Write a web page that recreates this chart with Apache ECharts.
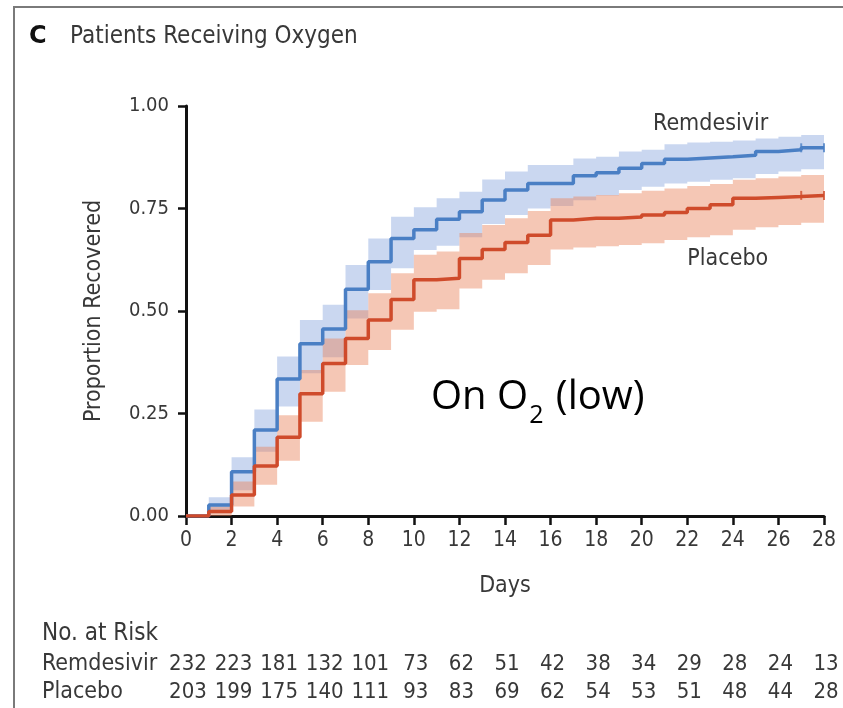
<!DOCTYPE html>
<html>
<head>
<meta charset="utf-8">
<script src="https://cdn.jsdelivr.net/npm/echarts@6/dist/echarts.min.js"></script>
<style>
  html, body { margin: 0; padding: 0; background: #fff; }
  #chart { width: 843px; height: 708px; }
</style>
</head>
<body>
<div id="chart"></div>
<script>
// Day grid for the Kaplan-Meier curves (value at day d holds until day d+1)
const days = [0, 1, 2, 3, 4, 5, 6, 7, 8, 9, 10, 11, 12, 13, 14, 15, 16, 17, 18, 19, 20, 21, 22, 23, 24, 25, 26, 27, 28];

// Cumulative proportion recovered
const remdesivir = [0, 0.027, 0.108, 0.210, 0.334, 0.420, 0.456, 0.553, 0.620, 0.677, 0.698, 0.724, 0.742, 0.771, 0.795, 0.811, 0.811, 0.830, 0.837, 0.848, 0.860, 0.870, 0.873, 0.876, 0.880, 0.889, 0.893, 0.898, 0.898];
const placebo = [0, 0.011, 0.051, 0.122, 0.192, 0.298, 0.372, 0.433, 0.478, 0.528, 0.576, 0.580, 0.628, 0.650, 0.667, 0.685, 0.722, 0.726, 0.726, 0.729, 0.734, 0.740, 0.750, 0.759, 0.775, 0.777, 0.779, 0.782, 0.782];

// 95% confidence bands, one value per interval [d, d+1)
const remLower = [0, 0.007, 0.063, 0.157, 0.267, 0.348, 0.387, 0.482, 0.551, 0.604, 0.649, 0.659, 0.680, 0.712, 0.734, 0.750, 0.756, 0.770, 0.782, 0.795, 0.803, 0.811, 0.815, 0.820, 0.824, 0.834, 0.840, 0.846];
const remUpper = [0, 0.046, 0.143, 0.260, 0.389, 0.478, 0.515, 0.612, 0.677, 0.730, 0.753, 0.775, 0.791, 0.821, 0.840, 0.856, 0.856, 0.872, 0.876, 0.889, 0.893, 0.907, 0.911, 0.913, 0.916, 0.921, 0.925, 0.929];
const plaLower = [0, 0, 0.023, 0.076, 0.135, 0.230, 0.303, 0.368, 0.405, 0.454, 0.498, 0.504, 0.555, 0.576, 0.592, 0.612, 0.650, 0.655, 0.658, 0.661, 0.665, 0.673, 0.680, 0.685, 0.698, 0.704, 0.710, 0.715];
const plaUpper = [0, 0.023, 0.084, 0.169, 0.246, 0.356, 0.433, 0.502, 0.543, 0.592, 0.637, 0.645, 0.690, 0.710, 0.726, 0.744, 0.775, 0.779, 0.783, 0.787, 0.793, 0.799, 0.805, 0.810, 0.820, 0.824, 0.828, 0.832];

// Censoring marks
const censorDays = [27, 28];

// Number at risk table
const riskDays = [0, 2, 4, 6, 8, 10, 12, 14, 16, 18, 20, 22, 24, 26, 28];
const riskRemdesivir = [232, 223, 181, 132, 101, 73, 62, 51, 42, 38, 34, 29, 28, 24, 13];
const riskPlacebo = [203, 199, 175, 140, 111, 93, 83, 69, 62, 54, 53, 51, 48, 44, 28];

const FONT = "'DejaVu Sans Condensed', 'DejaVu Sans', sans-serif";
const TEXT = '#383838';
const BLUE = '#4a7fc4';
const RED = '#cf4b2b';

function bandSeries(name, lo, hi, fill) {
  return {
    name: name,
    type: 'custom',
    coordinateSystem: 'cartesian2d',
    silent: true,
    z: 1,
    data: [[0, 0]],
    renderItem: function (params, api) {
      const pts = [];
      for (let i = 0; i < hi.length; i++) {
        pts.push(api.coord([days[i], hi[i]]));
        pts.push(api.coord([days[i + 1], hi[i]]));
      }
      for (let i = lo.length - 1; i >= 0; i--) {
        pts.push(api.coord([days[i + 1], lo[i]]));
        pts.push(api.coord([days[i], lo[i]]));
      }
      return { type: 'polygon', shape: { points: pts }, style: { fill: fill } };
    }
  };
}

function stepSeries(name, values, color) {
  return {
    name: name,
    type: 'line',
    step: 'end',
    symbol: 'none',
    z: 3,
    lineStyle: { color: color, width: 3.5 },
    data: days.map((d, i) => [d, values[i]])
  };
}

function censorSeries(values, color) {
  return {
    type: 'scatter',
    symbol: 'rect',
    symbolSize: [2, 9],
    z: 4,
    itemStyle: { color: color },
    data: censorDays.map(d => [d, values[d]])
  };
}

const chart = echarts.init(document.getElementById('chart'), null, { renderer: 'canvas' });

chart.setOption({
  animation: false,
  backgroundColor: '#fff',
  grid: { left: 186, right: 19, top: 106, bottom: 192, containLabel: false },
  xAxis: {
    type: 'value', min: 0, max: 28, interval: 2,
    axisLine: { show: true, onZero: false, lineStyle: { color: '#111', width: 3 } },
    axisTick: { show: true, length: 9, lineStyle: { color: '#111', width: 2.5 } },
    axisLabel: { fontFamily: FONT, fontSize: 21, color: TEXT, margin: 14 },
    splitLine: { show: false },
    name: 'Days', nameLocation: 'middle', nameGap: 59,
    nameTextStyle: { fontFamily: FONT, fontSize: 23, color: TEXT }
  },
  yAxis: {
    type: 'value', min: 0, max: 1, interval: 0.25,
    axisLine: { show: true, lineStyle: { color: '#111', width: 3 } },
    axisTick: { show: true, length: 8, lineStyle: { color: '#111', width: 2.5 } },
    axisLabel: { fontFamily: FONT, fontSize: 20, color: TEXT, margin: 17, formatter: v => v.toFixed(2) },
    splitLine: { show: false },
    name: 'Proportion Recovered', nameLocation: 'middle', nameGap: 80,
    nameTextStyle: { fontFamily: FONT, fontSize: 23, color: TEXT }
  },
  series: [
    bandSeries('Remdesivir CI', remLower, remUpper, 'rgba(128,160,220,0.42)'),
    bandSeries('Placebo CI', plaLower, plaUpper, 'rgba(232,130,90,0.45)'),
    stepSeries('Remdesivir', remdesivir, BLUE),
    stepSeries('Placebo', placebo, RED),
    censorSeries(remdesivir, BLUE),
    censorSeries(placebo, RED)
  ]
});

// Overlay text: panel title, series labels, annotation and number-at-risk table
const px = (x, y) => chart.convertToPixel({ xAxisIndex: 0, yAxisIndex: 0 }, [x, y]);
const graphics = [];

// panel frame
graphics.push({ type: 'line', shape: { x1: 14, y1: 7, x2: 14, y2: 708 }, style: { stroke: '#7a7a7a', lineWidth: 2 } });
graphics.push({ type: 'line', shape: { x1: 13, y1: 7, x2: 843, y2: 7 }, style: { stroke: '#7a7a7a', lineWidth: 2 } });

graphics.push({ type: 'text', x: 29, y: 37, style: { text: 'C', fontFamily: "'DejaVu Sans', sans-serif", fontWeight: 'bold', fontSize: 24, fill: '#111', verticalAlign: 'middle' } });
graphics.push({ type: 'text', x: 70, y: 37, style: { text: 'Patients Receiving Oxygen', fontFamily: FONT, fontSize: 24, fill: TEXT, verticalAlign: 'middle' } });

const remLab = px(25.55, 0.956);
graphics.push({ type: 'text', x: remLab[0], y: remLab[1], style: { text: 'Remdesivir', fontFamily: FONT, fontSize: 23, fill: TEXT, align: 'right', verticalAlign: 'middle' } });
const plaLab = px(25.55, 0.627);
graphics.push({ type: 'text', x: plaLab[0], y: plaLab[1], style: { text: 'Placebo', fontFamily: FONT, fontSize: 23, fill: TEXT, align: 'right', verticalAlign: 'middle' } });

// "On O2 (low)" with a subscript 2
(function () {
  const ctx = document.createElement('canvas').getContext('2d');
  const big = 40, small = 25, fam = "'Open Sans', 'Noto Sans', sans-serif";
  ctx.font = big + 'px ' + fam;
  const w1 = ctx.measureText('On O').width;
  ctx.font = small + 'px ' + fam;
  const w2 = ctx.measureText('2').width;
  const x0 = 431, yMid = 398;
  graphics.push({ type: 'text', x: x0, y: yMid, style: { text: 'On O', fontFamily: fam, fontSize: big, fill: '#000', verticalAlign: 'middle' } });
  graphics.push({ type: 'text', x: x0 + w1 + 1, y: yMid + 18, style: { text: '2', fontFamily: fam, fontSize: small, fill: '#000', verticalAlign: 'middle' } });
  graphics.push({ type: 'text', x: x0 + w1 + w2 + 3, y: yMid, style: { text: ' (low)', fontFamily: fam, fontSize: big, fill: '#000', verticalAlign: 'middle' } });
})();

graphics.push({ type: 'text', x: 42, y: 634, style: { text: 'No. at Risk', fontFamily: FONT, fontSize: 24, fill: TEXT, verticalAlign: 'middle' } });
graphics.push({ type: 'text', x: 42, y: 664, style: { text: 'Remdesivir', fontFamily: FONT, fontSize: 23, fill: TEXT, verticalAlign: 'middle' } });
graphics.push({ type: 'text', x: 42, y: 692, style: { text: 'Placebo', fontFamily: FONT, fontSize: 23, fill: TEXT, verticalAlign: 'middle' } });
riskDays.forEach((d, i) => {
  const cx = px(d, 0)[0] + 2;
  graphics.push({ type: 'text', x: cx, y: 664, style: { text: String(riskRemdesivir[i]), fontFamily: FONT, fontSize: 22, fill: TEXT, align: 'center', verticalAlign: 'middle' } });
  graphics.push({ type: 'text', x: cx, y: 692, style: { text: String(riskPlacebo[i]), fontFamily: FONT, fontSize: 22, fill: TEXT, align: 'center', verticalAlign: 'middle' } });
});

chart.setOption({ graphic: { elements: graphics } });
</script>
</body>
</html>
